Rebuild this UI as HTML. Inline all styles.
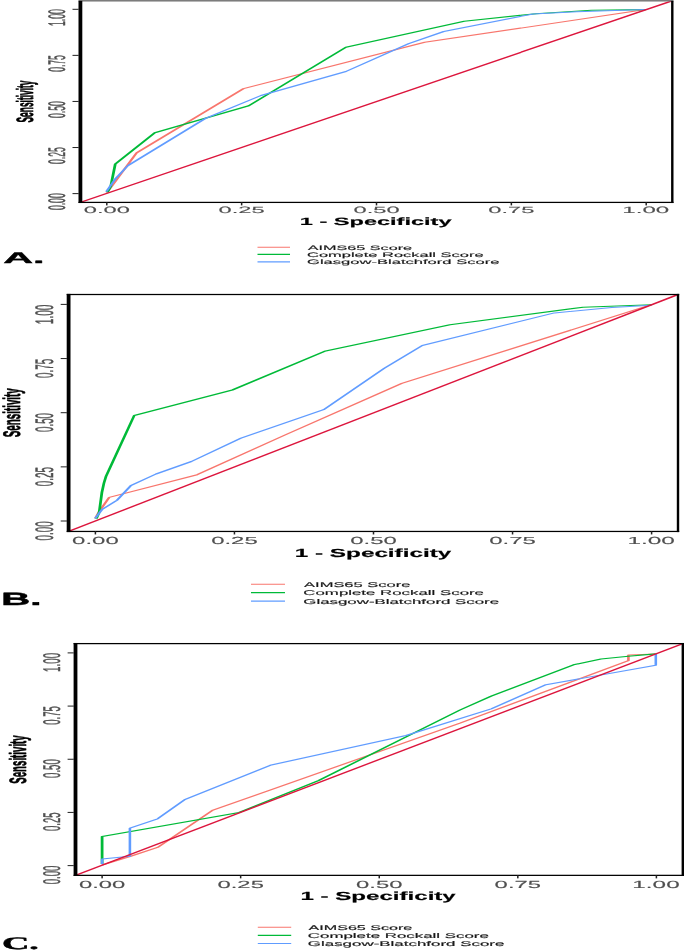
<!DOCTYPE html>
<html lang="en">
<head>
<meta charset="utf-8">
<title>ROC curves</title>
<style>
html,body{margin:0;padding:0;background:#fff;}
body{width:685px;height:950px;overflow:hidden;}
svg{display:block;}
text{font-size:100px;text-rendering:geometricPrecision;}
</style>
</head>
<body>
<svg width="685" height="950" viewBox="0 0 685 950">
<defs><filter id="soft" x="0" y="0" width="685" height="950" filterUnits="userSpaceOnUse"><feGaussianBlur stdDeviation="0.4"/></filter></defs>
<rect x="0" y="0" width="685" height="950" fill="#ffffff"/>
<g filter="url(#soft)">
<g>
<g transform="scale(2.500,1)">
<polyline points="42.72,192.30 44.00,188.50 54.64,152.90 97.40,88.60 169.88,42.30 258.24,9.60" fill="none" stroke="#F8766D" stroke-width="1.05" stroke-linejoin="round"/>
<polyline points="42.96,192.30 44.28,186.50 46.12,163.90 61.92,132.70 99.52,105.80 138.36,47.30 185.68,21.30 214.40,13.70 236.56,10.20 258.24,9.60" fill="none" stroke="#00BA38" stroke-width="1.11" stroke-linejoin="round"/>
<polyline points="42.52,191.60 46.28,178.40 51.16,165.60 82.20,118.40 104.40,95.50 138.36,71.50 163.48,43.70 177.52,31.50 213.20,14.00 230.72,11.70 258.24,9.60" fill="none" stroke="#619CFF" stroke-width="1.03" stroke-linejoin="round"/>
<polyline points="32.16,202.40 268.92,0.70" fill="none" stroke="#DC143C" stroke-width="1.13" stroke-linejoin="round"/>
</g>
<g transform="scale(2.100,1)">
<line x1="122.62" y1="247.30" x2="138.10" y2="247.30" stroke="#F8766D" stroke-width="1.00" stroke-linecap="butt"/>
<line x1="122.62" y1="254.40" x2="138.10" y2="254.40" stroke="#00BA38" stroke-width="1.30" stroke-linecap="butt"/>
<line x1="122.62" y1="261.80" x2="138.10" y2="261.80" stroke="#619CFF" stroke-width="1.20" stroke-linecap="butt"/>
</g>
<rect x="78.50" y="-0.15" width="595.00" height="1.70" fill="#7b7b7b"/>
<rect x="78.50" y="201.78" width="595.00" height="1.25" fill="#000"/>
<rect x="78.50" y="0.90" width="3.80" height="202.12" fill="#000"/>
<rect x="671.10" y="0.90" width="2.40" height="202.12" fill="#000"/>
<rect x="72.50" y="193.10" width="6.20" height="1.0" fill="#222"/>
<rect x="72.50" y="147.03" width="6.20" height="1.0" fill="#222"/>
<rect x="72.50" y="100.95" width="6.20" height="1.0" fill="#222"/>
<rect x="72.50" y="54.88" width="6.20" height="1.0" fill="#222"/>
<rect x="72.50" y="8.80" width="6.20" height="1.0" fill="#222"/>
<rect x="106.05" y="202.40" width="1.5" height="3.00" fill="#222"/>
<rect x="240.90" y="202.40" width="1.5" height="3.00" fill="#222"/>
<rect x="375.75" y="202.40" width="1.5" height="3.00" fill="#222"/>
<rect x="510.60" y="202.40" width="1.5" height="3.00" fill="#222"/>
<rect x="645.45" y="202.40" width="1.5" height="3.00" fill="#222"/>
<text transform="matrix(0,-0.0859,0.2411,0,65.22,210.06)" fill="#505050" font-family='"Liberation Sans", sans-serif' stroke="#505050" stroke-width="2.00" stroke-linejoin="round">0.00</text>
<text transform="matrix(0,-0.0859,0.2411,0,65.22,163.98)" fill="#505050" font-family='"Liberation Sans", sans-serif' stroke="#505050" stroke-width="2.00" stroke-linejoin="round">0.25</text>
<text transform="matrix(0,-0.0859,0.2411,0,65.22,117.91)" fill="#505050" font-family='"Liberation Sans", sans-serif' stroke="#505050" stroke-width="2.00" stroke-linejoin="round">0.50</text>
<text transform="matrix(0,-0.0859,0.2411,0,65.22,71.83)" fill="#505050" font-family='"Liberation Sans", sans-serif' stroke="#505050" stroke-width="2.00" stroke-linejoin="round">0.75</text>
<text transform="matrix(0,-0.0876,0.2411,0,65.22,26.07)" fill="#505050" font-family='"Liberation Sans", sans-serif' stroke="#505050" stroke-width="2.00" stroke-linejoin="round">1.00</text>
<text transform="matrix(0.2371,0,0,0.0914,83.74,213.35)" fill="#505050" font-family='"Liberation Sans", sans-serif' stroke="#505050" stroke-width="1.20" stroke-linejoin="round">0.00</text>
<text transform="matrix(0.2371,0,0,0.0914,218.59,213.35)" fill="#505050" font-family='"Liberation Sans", sans-serif' stroke="#505050" stroke-width="1.20" stroke-linejoin="round">0.25</text>
<text transform="matrix(0.2371,0,0,0.0914,353.44,213.35)" fill="#505050" font-family='"Liberation Sans", sans-serif' stroke="#505050" stroke-width="1.20" stroke-linejoin="round">0.50</text>
<text transform="matrix(0.2371,0,0,0.0914,488.29,213.35)" fill="#505050" font-family='"Liberation Sans", sans-serif' stroke="#505050" stroke-width="1.20" stroke-linejoin="round">0.75</text>
<text transform="matrix(0.2416,0,0,0.0914,622.28,213.35)" fill="#505050" font-family='"Liberation Sans", sans-serif' stroke="#505050" stroke-width="1.20" stroke-linejoin="round">1.00</text>
<text transform="matrix(0,-0.0841,0.2352,0,32.71,122.53)" fill="#000" font-family='"Liberation Sans", sans-serif' font-weight="bold" stroke="#000" stroke-width="3.00" stroke-linejoin="round">Sensitivity</text>
<text transform="matrix(0.2352,0,0,0.1053,299.85,224.71)" fill="#000" font-family='"Liberation Sans", sans-serif' font-weight="bold" stroke="#000" stroke-width="1.50" stroke-linejoin="round">1 - Specificity</text>
<text transform="matrix(0.1618,0,0,0.0648,307.78,249.54)" fill="#1a1a1a" font-family='"Liberation Sans", sans-serif' stroke="#1a1a1a" stroke-width="2.00" stroke-linejoin="round">AIMS65 Score</text>
<text transform="matrix(0.1646,0,0,0.0653,307.04,256.66)" fill="#1a1a1a" font-family='"Liberation Sans", sans-serif' stroke="#1a1a1a" stroke-width="2.00" stroke-linejoin="round">Complete Rockall Score</text>
<text transform="matrix(0.1656,0,0,0.0653,307.04,264.06)" fill="#1a1a1a" font-family='"Liberation Sans", sans-serif' stroke="#1a1a1a" stroke-width="2.00" stroke-linejoin="round">Glasgow-Blatchford Score</text>
<text transform="matrix(0.4140,0,0,0.1524,3.18,263.01)" fill="#000" font-family='"Liberation Sans", sans-serif' font-weight="bold" stroke="#000" stroke-width="2.50" stroke-linejoin="round">A.</text>
</g>
<g>
<g transform="scale(2.500,1)">
<polyline points="38.12,518.30 39.40,512.50 43.68,497.40 78.88,474.70 114.00,435.00 160.72,383.40 260.56,304.70" fill="none" stroke="#F8766D" stroke-width="1.05" stroke-linejoin="round"/>
<polyline points="38.56,518.70 39.68,512.30 40.76,492.40 41.56,483.20 42.40,476.40 53.68,415.50 92.92,390.00 129.80,351.30 180.00,324.80 233.20,307.20 260.56,304.70" fill="none" stroke="#00BA38" stroke-width="1.11" stroke-linejoin="round"/>
<polyline points="38.08,518.30 40.80,509.50 46.80,500.20 52.28,485.70 62.40,474.00 76.56,461.50 96.40,438.20 129.44,409.70 153.72,368.20 168.92,345.50 221.76,312.90 244.68,307.50 260.56,305.20" fill="none" stroke="#619CFF" stroke-width="1.03" stroke-linejoin="round"/>
<polyline points="27.44,531.45 271.20,294.50" fill="none" stroke="#DC143C" stroke-width="1.13" stroke-linejoin="round"/>
</g>
<g transform="scale(2.100,1)">
<line x1="119.52" y1="584.20" x2="135.71" y2="584.20" stroke="#F8766D" stroke-width="1.00" stroke-linecap="butt"/>
<line x1="119.52" y1="592.70" x2="135.71" y2="592.70" stroke="#00BA38" stroke-width="1.30" stroke-linecap="butt"/>
<line x1="119.52" y1="601.10" x2="135.71" y2="601.10" stroke="#619CFF" stroke-width="1.20" stroke-linecap="butt"/>
</g>
<rect x="66.70" y="293.88" width="612.50" height="1.25" fill="#000"/>
<rect x="66.70" y="530.83" width="612.50" height="1.25" fill="#000"/>
<rect x="66.70" y="293.88" width="3.80" height="238.20" fill="#000"/>
<rect x="676.80" y="293.88" width="2.40" height="238.20" fill="#000"/>
<rect x="60.70" y="520.50" width="6.20" height="1.0" fill="#222"/>
<rect x="60.70" y="466.35" width="6.20" height="1.0" fill="#222"/>
<rect x="60.70" y="412.20" width="6.20" height="1.0" fill="#222"/>
<rect x="60.70" y="358.05" width="6.20" height="1.0" fill="#222"/>
<rect x="60.70" y="303.90" width="6.20" height="1.0" fill="#222"/>
<rect x="94.65" y="531.45" width="1.5" height="3.00" fill="#222"/>
<rect x="233.70" y="531.45" width="1.5" height="3.00" fill="#222"/>
<rect x="372.75" y="531.45" width="1.5" height="3.00" fill="#222"/>
<rect x="511.80" y="531.45" width="1.5" height="3.00" fill="#222"/>
<rect x="650.85" y="531.45" width="1.5" height="3.00" fill="#222"/>
<text transform="matrix(0,-0.0987,0.2534,0,52.79,540.40)" fill="#505050" font-family='"Liberation Sans", sans-serif' stroke="#505050" stroke-width="2.00" stroke-linejoin="round">0.00</text>
<text transform="matrix(0,-0.0987,0.2534,0,52.79,486.25)" fill="#505050" font-family='"Liberation Sans", sans-serif' stroke="#505050" stroke-width="2.00" stroke-linejoin="round">0.25</text>
<text transform="matrix(0,-0.0987,0.2534,0,52.79,432.10)" fill="#505050" font-family='"Liberation Sans", sans-serif' stroke="#505050" stroke-width="2.00" stroke-linejoin="round">0.50</text>
<text transform="matrix(0,-0.0987,0.2534,0,52.79,377.95)" fill="#505050" font-family='"Liberation Sans", sans-serif' stroke="#505050" stroke-width="2.00" stroke-linejoin="round">0.75</text>
<text transform="matrix(0,-0.1005,0.2534,0,52.79,324.15)" fill="#505050" font-family='"Liberation Sans", sans-serif' stroke="#505050" stroke-width="2.00" stroke-linejoin="round">1.00</text>
<text transform="matrix(0.2397,0,0,0.1025,72.08,543.74)" fill="#505050" font-family='"Liberation Sans", sans-serif' stroke="#505050" stroke-width="1.20" stroke-linejoin="round">0.00</text>
<text transform="matrix(0.2397,0,0,0.1025,211.13,543.74)" fill="#505050" font-family='"Liberation Sans", sans-serif' stroke="#505050" stroke-width="1.20" stroke-linejoin="round">0.25</text>
<text transform="matrix(0.2397,0,0,0.1025,350.18,543.74)" fill="#505050" font-family='"Liberation Sans", sans-serif' stroke="#505050" stroke-width="1.20" stroke-linejoin="round">0.50</text>
<text transform="matrix(0.2397,0,0,0.1025,489.23,543.74)" fill="#505050" font-family='"Liberation Sans", sans-serif' stroke="#505050" stroke-width="1.20" stroke-linejoin="round">0.75</text>
<text transform="matrix(0.2443,0,0,0.1025,627.41,543.74)" fill="#505050" font-family='"Liberation Sans", sans-serif' stroke="#505050" stroke-width="1.20" stroke-linejoin="round">1.00</text>
<text transform="matrix(0,-0.0983,0.2404,0,19.69,437.35)" fill="#000" font-family='"Liberation Sans", sans-serif' font-weight="bold" stroke="#000" stroke-width="3.00" stroke-linejoin="round">Sensitivity</text>
<text transform="matrix(0.2427,0,0,0.1179,294.80,557.24)" fill="#000" font-family='"Liberation Sans", sans-serif' font-weight="bold" stroke="#000" stroke-width="1.50" stroke-linejoin="round">1 - Specificity</text>
<text transform="matrix(0.1648,0,0,0.0691,304.08,586.58)" fill="#1a1a1a" font-family='"Liberation Sans", sans-serif' stroke="#1a1a1a" stroke-width="2.00" stroke-linejoin="round">AIMS65 Score</text>
<text transform="matrix(0.1684,0,0,0.0695,303.33,595.11)" fill="#1a1a1a" font-family='"Liberation Sans", sans-serif' stroke="#1a1a1a" stroke-width="2.00" stroke-linejoin="round">Complete Rockall Score</text>
<text transform="matrix(0.1685,0,0,0.0695,303.33,603.51)" fill="#1a1a1a" font-family='"Liberation Sans", sans-serif' stroke="#1a1a1a" stroke-width="2.00" stroke-linejoin="round">Glasgow-Blatchford Score</text>
<text transform="matrix(0.4000,0,0,0.1764,1.30,604.74)" fill="#000" font-family='"Liberation Sans", sans-serif' font-weight="bold" stroke="#000" stroke-width="3.00" stroke-linejoin="round">B.</text>
</g>
<g>
<g transform="scale(2.500,1)">
<polyline points="40.84,865.00 51.96,856.50 63.04,847.40 85.20,810.10 108.00,790.20 184.00,723.20 251.36,660.70 251.36,654.90 262.32,653.90" fill="none" stroke="#F8766D" stroke-width="1.05" stroke-linejoin="round"/>
<polyline points="40.84,864.10 40.84,836.40 95.72,812.40 127.36,780.70 184.00,710.00 196.48,696.10 229.40,664.80 240.40,659.00 251.36,656.30 262.32,653.90" fill="none" stroke="#00BA38" stroke-width="1.11" stroke-linejoin="round"/>
<polyline points="40.84,864.10 40.84,859.10 51.96,856.20 51.96,828.20 63.04,818.80 74.12,799.30 108.08,765.30 162.40,735.50 196.48,708.80 218.40,684.70 262.32,665.20 262.32,653.90" fill="none" stroke="#619CFF" stroke-width="1.03" stroke-linejoin="round"/>
<polyline points="30.20,875.35 273.12,643.60" fill="none" stroke="#DC143C" stroke-width="1.13" stroke-linejoin="round"/>
</g>
<g transform="scale(2.100,1)">
<line x1="122.76" y1="927.30" x2="138.67" y2="927.30" stroke="#F8766D" stroke-width="1.00" stroke-linecap="butt"/>
<line x1="122.76" y1="935.40" x2="138.67" y2="935.40" stroke="#00BA38" stroke-width="1.30" stroke-linecap="butt"/>
<line x1="122.76" y1="943.50" x2="138.67" y2="943.50" stroke="#619CFF" stroke-width="1.20" stroke-linecap="butt"/>
</g>
<rect x="73.60" y="642.98" width="610.40" height="1.25" fill="#000"/>
<rect x="73.60" y="874.73" width="610.40" height="1.25" fill="#000"/>
<rect x="73.60" y="642.98" width="3.80" height="233.00" fill="#000"/>
<rect x="681.60" y="642.98" width="2.40" height="233.00" fill="#000"/>
<rect x="67.60" y="865.10" width="6.20" height="1.0" fill="#222"/>
<rect x="67.60" y="811.92" width="6.20" height="1.0" fill="#222"/>
<rect x="67.60" y="758.75" width="6.20" height="1.0" fill="#222"/>
<rect x="67.60" y="705.58" width="6.20" height="1.0" fill="#222"/>
<rect x="67.60" y="652.40" width="6.20" height="1.0" fill="#222"/>
<rect x="101.35" y="875.35" width="1.5" height="3.00" fill="#222"/>
<rect x="239.92" y="875.35" width="1.5" height="3.00" fill="#222"/>
<rect x="378.50" y="875.35" width="1.5" height="3.00" fill="#222"/>
<rect x="517.07" y="875.35" width="1.5" height="3.00" fill="#222"/>
<rect x="655.65" y="875.35" width="1.5" height="3.00" fill="#222"/>
<text transform="matrix(0,-0.0960,0.2425,0,59.82,884.29)" fill="#505050" font-family='"Liberation Sans", sans-serif' stroke="#505050" stroke-width="2.00" stroke-linejoin="round">0.00</text>
<text transform="matrix(0,-0.0960,0.2425,0,59.82,831.11)" fill="#505050" font-family='"Liberation Sans", sans-serif' stroke="#505050" stroke-width="2.00" stroke-linejoin="round">0.25</text>
<text transform="matrix(0,-0.0960,0.2425,0,59.82,777.94)" fill="#505050" font-family='"Liberation Sans", sans-serif' stroke="#505050" stroke-width="2.00" stroke-linejoin="round">0.50</text>
<text transform="matrix(0,-0.0960,0.2425,0,59.82,724.76)" fill="#505050" font-family='"Liberation Sans", sans-serif' stroke="#505050" stroke-width="2.00" stroke-linejoin="round">0.75</text>
<text transform="matrix(0,-0.0978,0.2425,0,59.82,671.94)" fill="#505050" font-family='"Liberation Sans", sans-serif' stroke="#505050" stroke-width="2.00" stroke-linejoin="round">1.00</text>
<text transform="matrix(0.2387,0,0,0.1039,78.89,887.83)" fill="#505050" font-family='"Liberation Sans", sans-serif' stroke="#505050" stroke-width="1.20" stroke-linejoin="round">0.00</text>
<text transform="matrix(0.2387,0,0,0.1039,217.46,887.83)" fill="#505050" font-family='"Liberation Sans", sans-serif' stroke="#505050" stroke-width="1.20" stroke-linejoin="round">0.25</text>
<text transform="matrix(0.2387,0,0,0.1039,356.04,887.83)" fill="#505050" font-family='"Liberation Sans", sans-serif' stroke="#505050" stroke-width="1.20" stroke-linejoin="round">0.50</text>
<text transform="matrix(0.2387,0,0,0.1039,494.61,887.83)" fill="#505050" font-family='"Liberation Sans", sans-serif' stroke="#505050" stroke-width="1.20" stroke-linejoin="round">0.75</text>
<text transform="matrix(0.2432,0,0,0.1039,632.32,887.83)" fill="#505050" font-family='"Liberation Sans", sans-serif' stroke="#505050" stroke-width="1.20" stroke-linejoin="round">1.00</text>
<text transform="matrix(0,-0.0969,0.2352,0,26.21,783.75)" fill="#000" font-family='"Liberation Sans", sans-serif' font-weight="bold" stroke="#000" stroke-width="3.00" stroke-linejoin="round">Sensitivity</text>
<text transform="matrix(0.2408,0,0,0.1179,300.52,900.44)" fill="#000" font-family='"Liberation Sans", sans-serif' font-weight="bold" stroke="#000" stroke-width="1.50" stroke-linejoin="round">1 - Specificity</text>
<text transform="matrix(0.1609,0,0,0.0677,308.58,929.63)" fill="#1a1a1a" font-family='"Liberation Sans", sans-serif' stroke="#1a1a1a" stroke-width="2.00" stroke-linejoin="round">AIMS65 Score</text>
<text transform="matrix(0.1687,0,0,0.0681,307.83,937.76)" fill="#1a1a1a" font-family='"Liberation Sans", sans-serif' stroke="#1a1a1a" stroke-width="2.00" stroke-linejoin="round">Complete Rockall Score</text>
<text transform="matrix(0.1692,0,0,0.0681,307.82,945.86)" fill="#1a1a1a" font-family='"Liberation Sans", sans-serif' stroke="#1a1a1a" stroke-width="2.00" stroke-linejoin="round">Glasgow-Blatchford Score</text>
<text transform="matrix(0.3789,0,0,0.1757,1.88,948.52)" fill="#000" font-family='"Liberation Serif", serif' font-weight="bold" stroke="#000" stroke-width="2.50" stroke-linejoin="round">C.</text>
</g>
</g>
</svg>
</body>
</html>
